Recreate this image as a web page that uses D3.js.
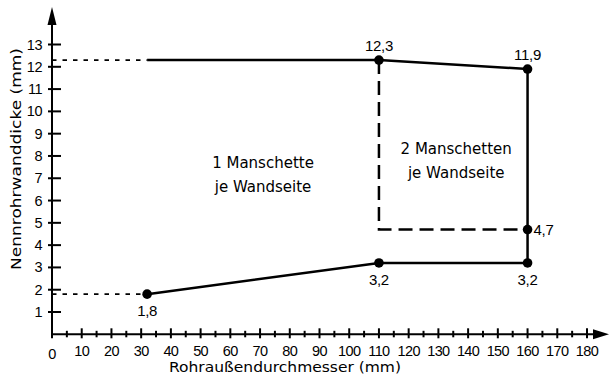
<!DOCTYPE html>
<html><head><meta charset="utf-8">
<script src="https://cdn.jsdelivr.net/npm/d3@7"></script>
<style>
html,body{margin:0;padding:0;background:#fff;}
svg text{font-family:"Liberation Sans",Arial,sans-serif;fill:#000;}
svg text.wide{font-family:"DejaVu Sans",sans-serif;}
</style></head>
<body><svg id="c" width="611" height="383"></svg>
<script>
// Wall thickness limits (mm) over outer pipe diameter (mm)
const xTicks = d3.range(0, 181, 10);
const xMinor = d3.range(5, 181, 10);
const yTicks = d3.range(1, 14, 1);

// Solid boundary: lower edge, right edge
const solidPath = [[32, 1.8], [110, 3.2], [160, 3.2], [160, 4.7], [160, 11.9]];
// Solid upper edge
const topPath = [[32, 12.3], [110, 12.3], [160, 11.9]];
// Dashed divider between one and two sleeves
const dividerPath = [[110, 12.3], [110, 4.7], [160, 4.7]];
// Dotted reference lines to the y axis
const refLines = [[[0, 12.3], [32, 12.3]], [[0, 1.8], [32, 1.8]]];

const points = [
  {x: 32, y: 1.8, label: "1,8", pos: "below"},
  {x: 110, y: 3.2, label: "3,2", pos: "below"},
  {x: 160, y: 3.2, label: "3,2", pos: "below"},
  {x: 160, y: 4.7, label: "4,7", pos: "right"},
  {x: 160, y: 11.9, label: "11,9", pos: "above"},
  {x: 110, y: 12.3, label: "12,3", pos: "above"}
];

const regionLabels = [
  {x: 71, y: 7.45, lines: ["1 Manschette", "je Wandseite"]},
  {x: 136, y: 8.1, lines: ["2 Manschetten", "je Wandseite"]}
];

const svg = d3.select("#c");
const x = d3.scaleLinear().domain([0, 180]).range([52, 587]);
const y = d3.scaleLinear().domain([0, 13]).range([334.3, 44.5]);
const line = d3.line().x(d => x(d[0])).y(d => y(d[1]));

// Axes
const ax = svg.append("g").attr("stroke", "#000").attr("stroke-width", 2);
ax.append("line").attr("x1", x(0)).attr("x2", 597).attr("y1", y(0)).attr("y2", y(0));
ax.append("line").attr("x1", x(0)).attr("x2", x(0)).attr("y1", y(0) + 4).attr("y2", 22);
svg.append("path").attr("d", `M${x(0)},7 L${x(0) - 4.5},25 L${x(0) + 4.5},25 Z`).attr("fill", "#000");
svg.append("path").attr("d", `M609,${y(0)} L593,${y(0) - 5} L593,${y(0) + 5} Z`).attr("fill", "#000");

ax.selectAll(".xt").data(xTicks.filter(d => d > 0)).join("line")
  .attr("x1", d => x(d)).attr("x2", d => x(d)).attr("y1", y(0) - 6).attr("y2", y(0) + 4);
ax.selectAll(".xm").data(xMinor).join("line")
  .attr("x1", d => x(d)).attr("x2", d => x(d)).attr("y1", y(0) - 3.5).attr("y2", y(0) + 3);
ax.selectAll(".yt").data(yTicks).join("line")
  .attr("x1", x(0) - 4).attr("x2", x(0) + 9).attr("y1", d => y(d)).attr("y2", d => y(d));

svg.selectAll(".xl").data(xTicks).join("text")
  .attr("x", d => x(d)).attr("y", d => d === 0 ? y(0) + 25 : y(0) + 22)
  .attr("text-anchor", "middle").attr("font-size", 14.5).attr("letter-spacing", -0.6)
  .text(d => d);
svg.selectAll(".yl").data(yTicks).join("text")
  .attr("x", x(0) - 10).attr("y", d => y(d) + 5)
  .attr("text-anchor", "end").attr("font-size", 14.5).attr("letter-spacing", -0.5)
  .text(d => d);

svg.append("text").attr("class", "wide").attr("x", 285).attr("y", 372).attr("text-anchor", "middle")
  .attr("font-size", 14).attr("textLength", 232).attr("lengthAdjust", "spacingAndGlyphs")
  .text("Rohraußendurchmesser (mm)");
svg.append("text").attr("class", "wide").attr("transform", "translate(21,159) rotate(-90)").attr("text-anchor", "middle")
  .attr("font-size", 14).attr("textLength", 222).attr("lengthAdjust", "spacingAndGlyphs")
  .text("Nennrohrwanddicke (mm)");

// Reference lines
svg.selectAll(".ref").data(refLines).join("path")
  .attr("d", line).attr("fill", "none").attr("stroke", "#000")
  .attr("stroke-width", 1.8).attr("stroke-dasharray", "4.5,6");

// Boundary lines
[solidPath, topPath].forEach(p => svg.append("path").attr("d", line(p))
  .attr("fill", "none").attr("stroke", "#000").attr("stroke-width", 2.5).attr("stroke-linejoin", "miter"));
svg.append("path").attr("d", line(dividerPath)).attr("fill", "none").attr("stroke", "#000")
  .attr("stroke-width", 2.5).attr("stroke-dasharray", "14,7");

// Points and their values
svg.selectAll(".pt").data(points).join("circle")
  .attr("cx", d => x(d.x)).attr("cy", d => y(d.y)).attr("r", 4.8).attr("fill", "#000");
svg.selectAll(".pl").data(points).join("text")
  .attr("x", d => d.pos === "right" ? x(d.x) + 6 : x(d.x))
  .attr("y", d => d.pos === "below" ? y(d.y) + 22 : d.pos === "above" ? y(d.y) - 9 : y(d.y) + 5)
  .attr("text-anchor", d => d.pos === "right" ? "start" : "middle")
  .attr("font-size", 15).attr("letter-spacing", -0.3).text(d => d.label);

// Region descriptions
regionLabels.forEach(r => {
  const t = svg.append("text").attr("class", "wide").attr("x", x(r.x)).attr("y", y(r.y))
    .attr("font-size", 15).attr("text-anchor", "middle").attr("xml:space", "preserve")
    .style("white-space", "pre");
  r.lines.forEach((s, i) => t.append("tspan").attr("x", x(r.x)).attr("dy", i ? 24 : 0).text(s));
});
</script></body></html>
